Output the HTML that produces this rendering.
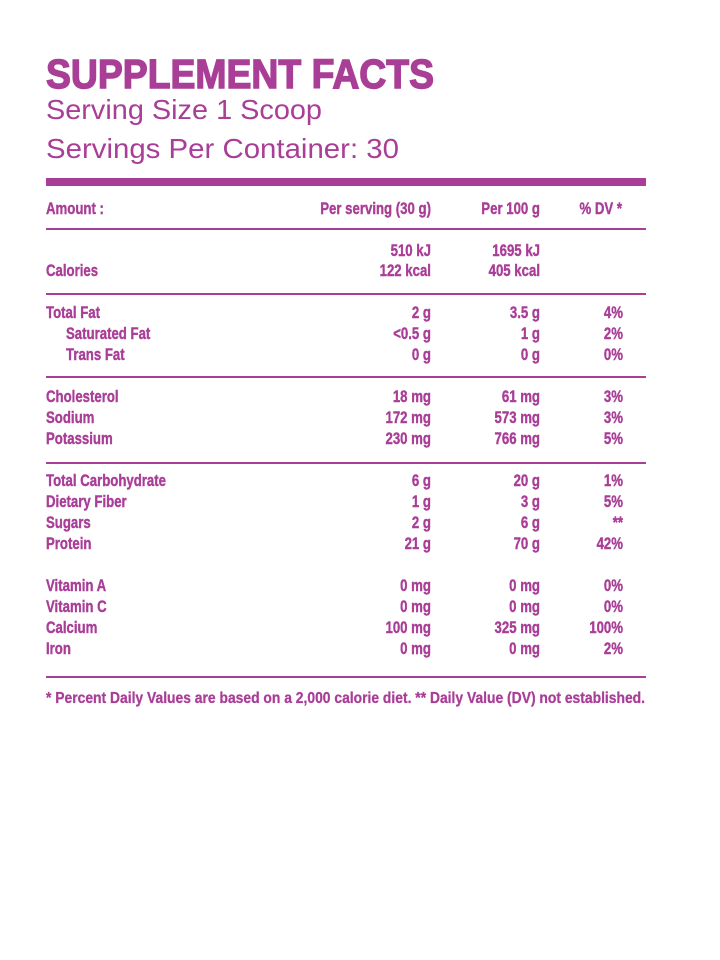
<!DOCTYPE html>
<html><head><meta charset="utf-8"><style>html,body{margin:0;padding:0;background:#fff}svg{display:block}</style></head>
<body>
<svg width="720" height="960" xmlns="http://www.w3.org/2000/svg" font-family="Liberation Sans, sans-serif" fill="#a93e97">
<text x="46" y="88" font-size="41" font-weight="bold" stroke="#a93e97" stroke-width="1.4" textLength="388" lengthAdjust="spacingAndGlyphs">SUPPLEMENT FACTS</text>
<text x="46" y="119" font-size="28" textLength="276" lengthAdjust="spacingAndGlyphs">Serving Size 1 Scoop</text>
<text x="46" y="158" font-size="28" textLength="353" lengthAdjust="spacingAndGlyphs">Servings Per Container: 30</text>
<rect x="46" y="178" width="600" height="8"/>
<rect x="46" y="228" width="600" height="2"/>
<rect x="46" y="293" width="600" height="2"/>
<rect x="46" y="376" width="600" height="2"/>
<rect x="46" y="462" width="600" height="2"/>
<rect x="46" y="676" width="600" height="2"/>
<g transform="scale(0.8,1)" font-size="16.5" font-weight="bold" stroke="#a93e97" stroke-width="0.4">
<text x="57.5" y="214">Amount :</text>
<text x="538.75" y="214" text-anchor="end">Per serving (30 g)</text>
<text x="675" y="214" text-anchor="end">Per 100 g</text>
<text x="777.5" y="214" text-anchor="end">% DV *</text>
<text x="538.75" y="256" text-anchor="end">510 kJ</text>
<text x="675" y="256" text-anchor="end">1695 kJ</text>
<text x="57.5" y="276">Calories</text>
<text x="538.75" y="276" text-anchor="end">122 kcal</text>
<text x="675" y="276" text-anchor="end">405 kcal</text>

<text x="57.5" y="318">Total Fat</text><text x="538.75" y="318" text-anchor="end">2 g</text><text x="675" y="318" text-anchor="end">3.5 g</text><text x="778.75" y="318" text-anchor="end">4%</text>
<text x="82.5" y="339">Saturated Fat</text><text x="538.75" y="339" text-anchor="end">&lt;0.5 g</text><text x="675" y="339" text-anchor="end">1 g</text><text x="778.75" y="339" text-anchor="end">2%</text>
<text x="82.5" y="360">Trans Fat</text><text x="538.75" y="360" text-anchor="end">0 g</text><text x="675" y="360" text-anchor="end">0 g</text><text x="778.75" y="360" text-anchor="end">0%</text>

<text x="57.5" y="402">Cholesterol</text><text x="538.75" y="402" text-anchor="end">18 mg</text><text x="675" y="402" text-anchor="end">61 mg</text><text x="778.75" y="402" text-anchor="end">3%</text>
<text x="57.5" y="423">Sodium</text><text x="538.75" y="423" text-anchor="end">172 mg</text><text x="675" y="423" text-anchor="end">573 mg</text><text x="778.75" y="423" text-anchor="end">3%</text>
<text x="57.5" y="444">Potassium</text><text x="538.75" y="444" text-anchor="end">230 mg</text><text x="675" y="444" text-anchor="end">766 mg</text><text x="778.75" y="444" text-anchor="end">5%</text>

<text x="57.5" y="486">Total Carbohydrate</text><text x="538.75" y="486" text-anchor="end">6 g</text><text x="675" y="486" text-anchor="end">20 g</text><text x="778.75" y="486" text-anchor="end">1%</text>
<text x="57.5" y="507">Dietary Fiber</text><text x="538.75" y="507" text-anchor="end">1 g</text><text x="675" y="507" text-anchor="end">3 g</text><text x="778.75" y="507" text-anchor="end">5%</text>
<text x="57.5" y="528">Sugars</text><text x="538.75" y="528" text-anchor="end">2 g</text><text x="675" y="528" text-anchor="end">6 g</text><text x="778.75" y="528" text-anchor="end">**</text>
<text x="57.5" y="549">Protein</text><text x="538.75" y="549" text-anchor="end">21 g</text><text x="675" y="549" text-anchor="end">70 g</text><text x="778.75" y="549" text-anchor="end">42%</text>

<text x="57.5" y="591">Vitamin A</text><text x="538.75" y="591" text-anchor="end">0 mg</text><text x="675" y="591" text-anchor="end">0 mg</text><text x="778.75" y="591" text-anchor="end">0%</text>
<text x="57.5" y="612">Vitamin C</text><text x="538.75" y="612" text-anchor="end">0 mg</text><text x="675" y="612" text-anchor="end">0 mg</text><text x="778.75" y="612" text-anchor="end">0%</text>
<text x="57.5" y="633">Calcium</text><text x="538.75" y="633" text-anchor="end">100 mg</text><text x="675" y="633" text-anchor="end">325 mg</text><text x="778.75" y="633" text-anchor="end">100%</text>
<text x="57.5" y="654">Iron</text><text x="538.75" y="654" text-anchor="end">0 mg</text><text x="675" y="654" text-anchor="end">0 mg</text><text x="778.75" y="654" text-anchor="end">2%</text>
</g>
<text x="46" y="703" font-size="16" font-weight="bold" stroke="#a93e97" stroke-width="0.3" textLength="599" lengthAdjust="spacingAndGlyphs">* Percent Daily Values are based on a 2,000 calorie diet. ** Daily Value (DV) not established.</text>
</svg>
</body></html>
